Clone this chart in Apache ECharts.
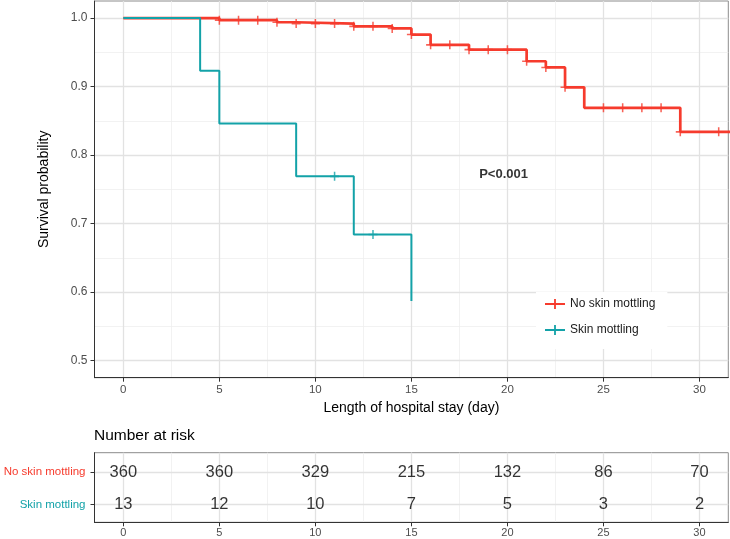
<!DOCTYPE html>
<html>
<head>
<meta charset="utf-8">
<script src="https://cdn.jsdelivr.net/npm/echarts@6/dist/echarts.min.js"></script>
<style>html,body{margin:0;padding:0;background:#fff}#c{width:730px;height:539px}</style>
</head>
<body>
<div id="c"></div>
<script>
// ---- data ----
const groupNames = ['No skin mottling', 'Skin mottling'];
const noMottTime = [0, 5, 8, 9, 12, 14, 15, 16, 18, 21, 22, 23, 24, 29, 33];
const noMottSurv = [1.000, 0.997, 0.994, 0.992, 0.988, 0.985, 0.976, 0.961, 0.954, 0.937, 0.928, 0.899, 0.869, 0.834, 0.834];
const noMottCensor = [5, 6, 7, 8, 9, 10, 11, 12, 13, 14, 15, 16, 17, 18, 19, 20, 21, 22, 23, 25, 26, 27, 28, 29, 31];
const mottTime = [0, 4, 5, 9, 12, 15];
const mottSurv = [1.000, 0.923, 0.846, 0.769, 0.684, 0.587];
const mottCensor = [11, 13];
const xTicks = [0, 5, 10, 15, 20, 25, 30];
const xMinorTicks = [2.5, 7.5, 12.5, 17.5, 22.5, 27.5];
const yTicks = [0.5, 0.6, 0.7, 0.8, 0.9, 1.0];
const yMinorTicks = [0.55, 0.65, 0.75, 0.85, 0.95];
const riskTimes = [0, 5, 10, 15, 20, 25, 30];
const riskNoMott = [360, 360, 329, 215, 132, 86, 70];
const riskMott = [13, 12, 10, 7, 5, 3, 2];
const pText = 'P<0.001';
const pPos = [19.8, 0.772];

const RED = '#F63B2D', TEAL = '#13A2A8';
const FONT = 'Liberation Sans, Arial, sans-serif';

function survAt(times, surv, t) {
  let s = surv[0];
  for (let i = 0; i < times.length; i++) if (times[i] <= t) s = surv[i];
  return s;
}
const plus = 'path://M0,4.1H10V5.9H0Z M4.15,0H5.85V10H4.15Z';

function gridLines(xi, yi, xMaj, xMin, yMaj, yMin) {
  const maj = {color: '#E2E2E2', width: 1.3, type: 'solid'};
  const mn = {color: '#EFEFEF', width: 0.8, type: 'solid'};
  const d = [];
  xMin.forEach(v => d.push({xAxis: v, lineStyle: mn}));
  yMin.forEach(v => d.push({yAxis: v, lineStyle: mn}));
  xMaj.forEach(v => d.push({xAxis: v, lineStyle: maj}));
  yMaj.forEach(v => d.push({yAxis: v, lineStyle: maj}));
  return {
    type: 'line', xAxisIndex: xi, yAxisIndex: yi, data: [], silent: true, z: 0,
    markLine: {symbol: ['none', 'none'], silent: true, animation: false, z: 0, label: {show: false}, data: d}
  };
}

const chart = echarts.init(document.getElementById('c'), null, {renderer: 'canvas'});
const L = 94.5, W = 633.8;
const riskLabel = {show: true, position: 'inside', formatter: p => String(p.value[2]), fontFamily: FONT, fontSize: 16.5,
  color: '#000', textBorderWidth: 0, textShadowBlur: 0};
const option = {
  animation: false,
  textStyle: {fontFamily: FONT},
  title: {
    text: 'Number at risk', left: 94, top: 428, padding: 0,
    textStyle: {fontFamily: FONT, fontSize: 15.5, fontWeight: 'normal', color: '#000'}
  },
  legend: {
    data: groupNames, left: 536, top: 292, orient: 'vertical',
    backgroundColor: '#fff', padding: [6, 12, 13, 9],
    itemWidth: 20, itemHeight: 10, itemGap: 14,
    textStyle: {fontFamily: FONT, fontSize: 12, color: '#1a1a1a'},
    selectedMode: false, z: 8
  },
  grid: [
    {left: L, top: 1, width: W, height: 376.7, show: true, borderColor: '#8c8c8c', borderWidth: 1, outerBoundsMode: 'none', containLabel: false},
    {left: L, top: 452.7, width: W, height: 69.6, show: true, borderColor: '#8c8c8c', borderWidth: 1, outerBoundsMode: 'none', containLabel: false}
  ],
  xAxis: [
    {
      type: 'value', gridIndex: 0, min: -1.5, max: 31.5,
      name: 'Length of hospital stay (day)', nameLocation: 'middle', nameGap: 23,
      nameTextStyle: {fontFamily: FONT, fontSize: 14, color: '#000'},
      axisLine: {show: true, onZero: false, lineStyle: {color: '#333', width: 1}},
      axisTick: {show: true, length: 4, customValues: xTicks, lineStyle: {color: '#333'}},
      axisLabel: {customValues: xTicks, margin: 6, fontSize: 11.5, color: '#4D4D4D', fontFamily: FONT},
      splitLine: {show: false}
    },
    {
      type: 'value', gridIndex: 1, min: -1.5, max: 31.5,
      axisLine: {show: true, onZero: false, lineStyle: {color: '#333', width: 1}},
      axisTick: {show: true, length: 4, customValues: xTicks, lineStyle: {color: '#333'}},
      axisLabel: {customValues: xTicks, margin: 5, fontSize: 11, color: '#4D4D4D', fontFamily: FONT},
      splitLine: {show: false}
    }
  ],
  yAxis: [
    {
      type: 'value', gridIndex: 0, min: 0.475, max: 1.025,
      name: 'Survival probability', nameLocation: 'middle', nameGap: 43,
      nameTextStyle: {fontFamily: FONT, fontSize: 14, color: '#000'},
      axisLine: {show: true, onZero: false, lineStyle: {color: '#333', width: 1}},
      axisTick: {show: true, length: 4, customValues: yTicks, lineStyle: {color: '#333'}},
      axisLabel: {customValues: yTicks, margin: 7, fontSize: 12, color: '#4D4D4D', fontFamily: FONT,
        formatter: v => v.toFixed(1)},
      splitLine: {show: false}
    },
    {
      type: 'value', gridIndex: 1, min: 0.44, max: 2.61,
      axisLine: {show: true, onZero: false, lineStyle: {color: '#333', width: 1}},
      axisTick: {show: true, length: 4, customValues: [1, 2], lineStyle: {color: '#333'}},
      axisLabel: {customValues: [1, 2], margin: 9, fontSize: 11.5, fontFamily: FONT,
        formatter: v => v === 2 ? '{r|' + groupNames[0] + '}' : '{t|' + groupNames[1] + '}',
        rich: {r: {color: RED, fontSize: 11.5, fontFamily: FONT}, t: {color: TEAL, fontSize: 11.5, fontFamily: FONT}}},
      splitLine: {show: false}
    }
  ],
  series: [
    gridLines(0, 0, xTicks, xMinorTicks, yTicks, yMinorTicks),
    gridLines(1, 1, xTicks, xMinorTicks, [1, 2], []),
    {
      name: groupNames[0], type: 'line', step: 'end', xAxisIndex: 0, yAxisIndex: 0,
      data: noMottTime.map((t, i) => [t, noMottSurv[i]]),
      showSymbol: false, symbol: plus, lineStyle: {color: RED, width: 2.7}, itemStyle: {color: RED}, z: 3, clip: true
    },
    {
      name: groupNames[0], type: 'scatter', xAxisIndex: 0, yAxisIndex: 0,
      data: noMottCensor.map(t => [t, survAt(noMottTime, noMottSurv, t)]),
      symbol: plus, symbolSize: 9, itemStyle: {color: RED}, z: 3
    },
    {
      name: groupNames[1], type: 'line', step: 'end', xAxisIndex: 0, yAxisIndex: 0,
      data: mottTime.map((t, i) => [t, mottSurv[i]]),
      showSymbol: false, symbol: plus, lineStyle: {color: TEAL, width: 2}, itemStyle: {color: TEAL}, z: 4
    },
    {
      name: groupNames[1], type: 'scatter', xAxisIndex: 0, yAxisIndex: 0,
      data: mottCensor.map(t => [t, survAt(mottTime, mottSurv, t)]),
      symbol: plus, symbolSize: 9, itemStyle: {color: TEAL}, z: 4
    },
    {
      type: 'scatter', xAxisIndex: 0, yAxisIndex: 0, data: [pPos], symbolSize: 1,
      itemStyle: {color: 'rgba(0,0,0,0)'}, silent: true, z: 6,
      label: {show: true, position: 'inside', formatter: pText, fontFamily: FONT, fontSize: 13, fontWeight: 'bold', color: '#000', textBorderWidth: 0}
    },
    {
      type: 'scatter', xAxisIndex: 1, yAxisIndex: 1, symbolSize: 1, itemStyle: {color: 'rgba(0,0,0,0)'}, silent: true, z: 6,
      data: riskTimes.map((t, i) => [t, 2, riskNoMott[i]]),
      label: riskLabel
    },
    {
      type: 'scatter', xAxisIndex: 1, yAxisIndex: 1, symbolSize: 1, itemStyle: {color: 'rgba(0,0,0,0)'}, silent: true, z: 6,
      data: riskTimes.map((t, i) => [t, 1, riskMott[i]]),
      label: riskLabel
    }
  ]
};
option.legend.data = groupNames.map((n, i) => ({
  name: n,
  icon: 'path://M0,4.1H20V5.9H0Z M9.1,0H10.9V10H9.1Z',
  itemStyle: {color: i === 0 ? RED : TEAL}
}));
chart.setOption(option);
</script>
</body>
</html>
